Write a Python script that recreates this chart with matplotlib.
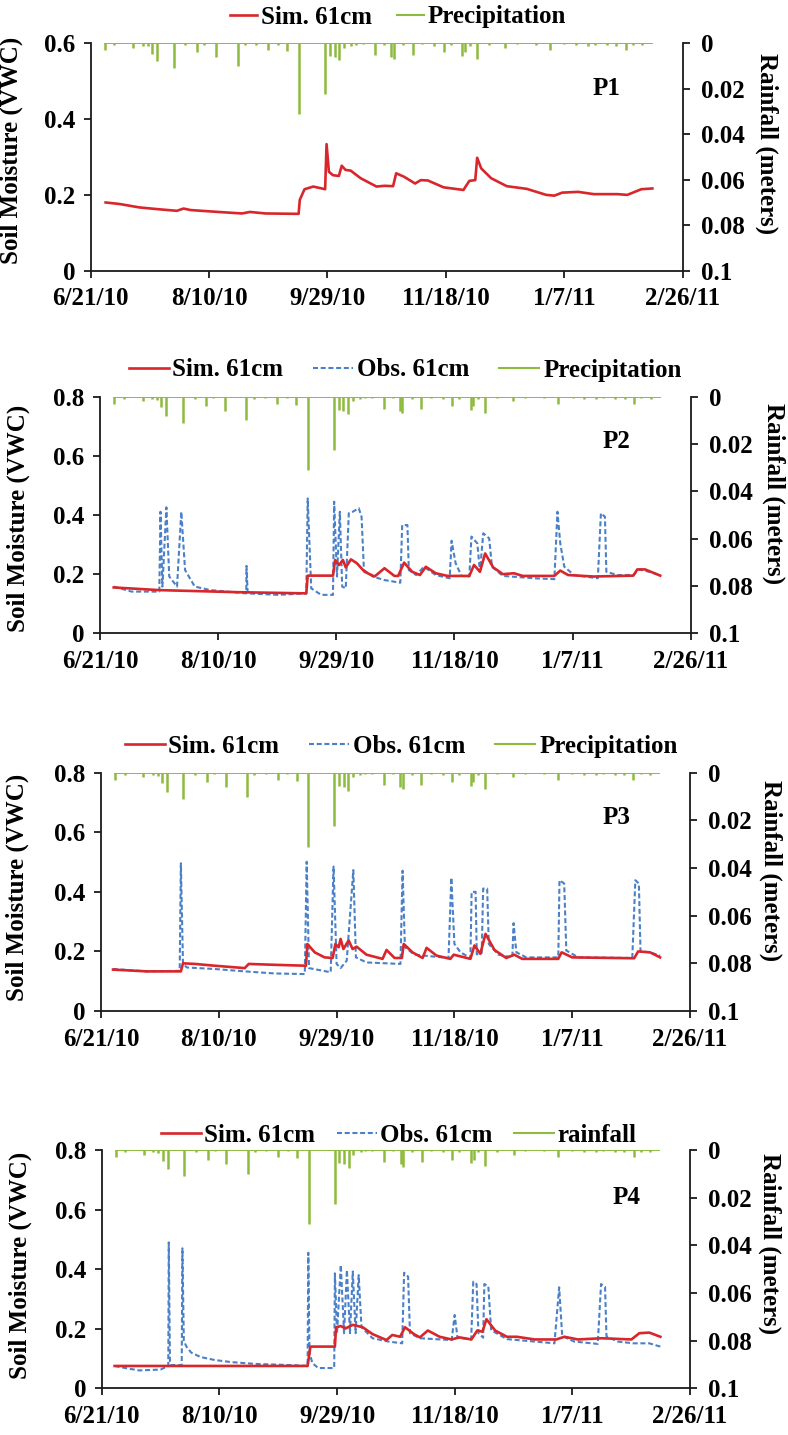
import numpy as np
import matplotlib
matplotlib.use("Agg")
import matplotlib.pyplot as plt
import matplotlib.dates as mdates
from matplotlib.ticker import FixedLocator, FuncFormatter
from matplotlib.lines import Line2D
import datetime as dt

plt.rcParams["font.family"] = ["Liberation Serif", "DejaVu Serif"]
plt.rcParams["font.weight"] = "bold"
plt.rcParams["font.size"] = 18

START = dt.date(2010, 6, 21)
END = dt.date(2011, 2, 26)

# ---- daily rainfall (m): days after 6/21/10 with rain, and the amount ----
rain_days = [6, 10, 18, 22, 24, 26, 28, 35, 40, 45, 48, 53, 62, 65, 70, 75, 79, 83,
             88, 99, 101, 103, 105, 107, 110, 112, 115, 120, 124, 127, 128, 132,
             136, 140, 145, 149, 152, 157, 158, 160, 163, 168, 175, 180, 188, 194,
             200, 205, 210, 213, 218, 222, 226, 229, 233]
rain_amt = [0.003, 0.0008, 0.002, 0.001, 0.0012, 0.0045, 0.008, 0.011, 0.0008, 0.004,
            0.0006, 0.006, 0.010, 0.0008, 0.0006, 0.003, 0.0006, 0.0035,
            0.031, 0.0225, 0.0055, 0.006, 0.0075, 0.002, 0.001, 0.0006,
            0.0005, 0.005, 0.0006, 0.006, 0.007, 0.0008,
            0.005, 0.0005, 0.001, 0.004, 0.0008, 0.0056, 0.004, 0.001, 0.0068,
            0.0007, 0.002, 0.0005, 0.0006, 0.003,
            0.0005, 0.0008, 0.001, 0.0006, 0.0008, 0.001, 0.003, 0.0007, 0.0008]
rain_first_day, rain_last_day = 6, 237

# ---- P1 simulated soil moisture at 61 cm ----
p1_sim_day = [6.3, 12.2, 20.5, 28.9, 36.4, 39.2, 42.2, 53.9, 63.9, 67.2, 73.9, 87.8,
              88.3, 90.3, 94.0, 99.0, 99.6, 100.6, 102.3, 104.8, 106.0, 107.6, 109.8,
              114.0, 120.7, 124.0, 127.7, 129.0, 132.3, 137.0, 139.4, 142.4, 149.0,
              157.4, 159.9, 162.4, 163.2, 164.9, 169.1, 175.7, 184.1, 192.4, 195.8,
              199.1, 205.8, 212.5, 222.5, 226.6, 232.5, 237.2]
p1_sim_vwc = [0.180, 0.176, 0.167, 0.162, 0.158, 0.164, 0.160, 0.155, 0.151, 0.155, 0.151,
              0.150, 0.187, 0.215, 0.222, 0.215, 0.334, 0.261, 0.252, 0.250, 0.277, 0.266,
              0.264, 0.244, 0.222, 0.224, 0.223, 0.257, 0.248, 0.230, 0.239, 0.238, 0.220,
              0.213, 0.237, 0.239, 0.298, 0.270, 0.244, 0.223, 0.216, 0.200, 0.198, 0.206,
              0.208, 0.202, 0.202, 0.200, 0.215, 0.217]

# ---- P2 ----
p2_sim_day = [5.8, 25.1, 58.5, 87.3, 87.9, 98.6, 99.5, 101.2, 102.8, 104.0, 106.2, 108.7,
              112.0, 116.2, 120.4, 124.6, 126.2, 128.7, 132.1, 135.4, 137.9, 142.1, 147.1,
              156.3, 158.3, 160.8, 163.0, 166.4, 170.5, 175.2, 178.9, 192.3, 194.8, 198.1,
              209.0, 225.7, 227.4, 230.7, 237.1]
p2_sim_vwc = [0.155, 0.146, 0.139, 0.135, 0.195, 0.195, 0.248, 0.231, 0.248, 0.223, 0.250,
              0.237, 0.208, 0.192, 0.220, 0.194, 0.194, 0.239, 0.208, 0.197, 0.225, 0.203,
              0.194, 0.194, 0.231, 0.208, 0.270, 0.223, 0.200, 0.203, 0.194, 0.194, 0.212,
              0.197, 0.192, 0.195, 0.216, 0.216, 0.195]
p2_obs_day = [5.8, 13.4, 25.1, 25.6, 26.4, 28.1, 29.3, 32.6, 34.4, 36.0, 40.1, 46.8, 61.9,
              62.0, 62.5, 75.2, 87.3, 87.9, 89.4, 93.6, 98.6, 99.1, 100.3, 101.5, 102.5,
              104.0, 105.3, 107.0, 109.5, 110.7, 111.7, 115.4, 120.4, 127.1, 127.9, 130.1,
              130.7, 133.8, 137.1, 142.1, 148.0, 148.8, 150.5, 153.0, 156.3, 157.2, 159.7,
              160.8, 162.2, 164.7, 165.9, 170.5, 183.9, 192.3, 193.6, 194.8, 196.5, 200.6,
              210.7, 212.0, 213.7, 214.3, 219.0, 225.7, 228.2, 232.4, 237.1]
p2_obs_vwc = [0.158, 0.141, 0.141, 0.411, 0.158, 0.426, 0.192, 0.158, 0.411, 0.214, 0.158,
              0.146, 0.135, 0.228, 0.135, 0.130, 0.135, 0.456, 0.152, 0.130, 0.130, 0.445,
              0.192, 0.411, 0.158, 0.152, 0.406, 0.411, 0.423, 0.394, 0.214, 0.192, 0.180,
              0.171, 0.366, 0.366, 0.214, 0.197, 0.225, 0.197, 0.186, 0.313, 0.237, 0.194,
              0.192, 0.327, 0.304, 0.208, 0.338, 0.321, 0.225, 0.194, 0.186, 0.183, 0.411,
              0.304, 0.225, 0.197, 0.186, 0.406, 0.394, 0.208, 0.197, 0.197, 0.216, 0.208,
              0.197]

# ---- P3 ----
p3_sim_day = [5.1, 19.5, 33.9, 34.8, 39.9, 48.3, 61.0, 62.7, 73.8, 87.0, 87.6, 90.7, 94.9,
              98.3, 99.5, 100.9, 101.7, 102.9, 105.1, 106.8, 108.5, 112.7, 119.5, 121.2,
              124.6, 127.7, 128.5, 132.2, 136.5, 138.2, 142.4, 148.3, 149.7, 156.8, 158.5,
              161.0, 163.2, 167.0, 172.0, 175.4, 178.8, 194.1, 195.5, 200.0, 226.3, 228.0,
              233.0, 237.3]
p3_sim_vwc = [0.139, 0.133, 0.133, 0.160, 0.158, 0.152, 0.144, 0.158, 0.155, 0.152, 0.225,
              0.197, 0.180, 0.178, 0.225, 0.214, 0.242, 0.208, 0.237, 0.208, 0.216, 0.189,
              0.175, 0.205, 0.178, 0.178, 0.225, 0.197, 0.178, 0.212, 0.186, 0.175, 0.189,
              0.175, 0.220, 0.192, 0.259, 0.205, 0.178, 0.189, 0.175, 0.175, 0.197, 0.180,
              0.177, 0.200, 0.197, 0.180]
p3_obs_day = [5.1, 19.5, 33.4, 33.9, 34.8, 36.5, 48.3, 61.0, 73.8, 86.5, 87.3, 88.3, 97.5,
              98.7, 100.0, 101.7, 104.3, 107.1, 108.2, 112.7, 127.1, 128.0, 129.0, 133.1,
              147.5, 148.7, 150.0, 152.6, 156.8, 157.3, 159.0, 159.5, 161.6, 162.2, 163.9,
              164.6, 168.7, 174.6, 175.1, 176.3, 180.5, 194.1, 194.6, 196.6, 197.5, 202.6,
              225.5, 226.8, 228.3, 229.0, 233.0, 237.3]
p3_obs_vwc = [0.141, 0.133, 0.135, 0.496, 0.158, 0.146, 0.141, 0.133, 0.126, 0.124, 0.501,
              0.144, 0.130, 0.485, 0.158, 0.144, 0.169, 0.473, 0.180, 0.163, 0.158, 0.471,
              0.214, 0.189, 0.178, 0.448, 0.225, 0.197, 0.178, 0.400, 0.400, 0.190, 0.195,
              0.411, 0.411, 0.225, 0.189, 0.180, 0.295, 0.197, 0.180, 0.180, 0.439, 0.428,
              0.203, 0.180, 0.178, 0.439, 0.428, 0.200, 0.197, 0.186]

# ---- P4 ----
p4_sim_day = [5.5, 87.5, 88.7, 99.1, 99.6, 101.6, 103.6, 106.7, 110.9, 115.1, 121.0, 123.5,
              126.8, 128.9, 132.7, 135.2, 138.6, 143.6, 148.7, 152.0, 157.1, 159.6, 161.8,
              163.5, 167.2, 172.2, 176.4, 184.0, 193.2, 196.6, 202.4, 212.5, 225.1, 228.5,
              232.7, 237.4]
p4_sim_vwc = [0.075, 0.075, 0.140, 0.140, 0.205, 0.209, 0.201, 0.213, 0.205, 0.182, 0.162,
              0.179, 0.173, 0.205, 0.182, 0.171, 0.194, 0.173, 0.164, 0.171, 0.164, 0.194,
              0.190, 0.232, 0.194, 0.173, 0.173, 0.164, 0.164, 0.173, 0.164, 0.168, 0.164,
              0.185, 0.187, 0.173]
p4_obs_day = [5.5, 10.0, 16.0, 25.0, 28.3, 28.5, 29.0, 29.5, 34.0, 34.3, 34.9, 36.0, 38.0,
              42.0, 48.0, 55.0, 65.0, 80.0, 87.5, 87.8, 88.3, 89.5, 92.0, 98.8, 99.1, 100.0,
              101.6, 103.0, 104.2, 105.5, 106.7, 107.9, 109.2, 110.4, 115.1, 121.8, 127.7,
              128.5, 130.2, 131.0, 135.2, 142.0, 148.7, 150.0, 151.2, 157.0, 157.9, 159.3,
              160.1, 162.1, 162.6, 164.3, 165.5, 172.2, 184.0, 192.4, 194.4, 195.7, 200.8,
              210.8, 212.2, 213.9, 214.5, 219.2, 226.0, 232.7, 237.4]
p4_obs_vwc = [0.075, 0.068, 0.060, 0.063, 0.075, 0.490, 0.090, 0.078, 0.078, 0.470, 0.160,
              0.140, 0.120, 0.105, 0.095, 0.088, 0.082, 0.078, 0.075, 0.455, 0.120, 0.085,
              0.068, 0.068, 0.386, 0.185, 0.414, 0.185, 0.397, 0.185, 0.392, 0.185, 0.380,
              0.205, 0.168, 0.157, 0.151, 0.388, 0.375, 0.185, 0.168, 0.165, 0.162, 0.246,
              0.170, 0.164, 0.358, 0.350, 0.185, 0.170, 0.350, 0.343, 0.195, 0.165, 0.157,
              0.151, 0.339, 0.175, 0.157, 0.149, 0.350, 0.341, 0.175, 0.157, 0.151, 0.151,
              0.140]

RED = "#D9262B"
BLUE = "#4A80C8"
GREEN = "#8DBB3E"
AXC = "#1a1a1a"

fig = plt.figure(figsize=(7.88, 14.35), dpi=100)
W, H = 788.0, 1435.0


def box(left, right, top, bottom):
    return [left / W, 1 - bottom / H, (right - left) / W, (bottom - top) / H]


base = mdates.date2num(START)
tick_nums = [mdates.date2num(START + dt.timedelta(days=50 * k)) for k in range(6)]

panels = [
    dict(rect=box(90.7, 682.7, 43.3, 270.7), ymax=0.6, sim=(p1_sim_day, p1_sim_vwc), obs=None,
         rain_label="Precipitation", tag="P1", tagxy=(0.872, 0.803),
         ylab=(-0.114, 0.53), rlab=(1.142, 0.56),
         leg=(0.505, 1 - 17 / H), leg_hl=1.1, leg_cs=1.0),
    dict(rect=box(100, 690.7, 396.7, 633.3), ymax=0.8, sim=(p2_sim_day, p2_sim_vwc),
         obs=(p2_obs_day, p2_obs_vwc), rain_label="Precipitation", tag="P2",
         tagxy=(0.875, 0.809), ylab=(-0.1185, 0.486), rlab=(1.14, 0.59),
         leg=(0.514, 1 - 370 / H), leg_hl=1.6, leg_cs=1.2),
    dict(rect=box(101, 690, 772.7, 1011), ymax=0.8, sim=(p3_sim_day, p3_sim_vwc),
         obs=(p3_obs_day, p3_obs_vwc), rain_label="Precipitation", tag="P3",
         tagxy=(0.876, 0.81), ylab=(-0.123, 0.518), rlab=(1.137, 0.588),
         leg=(0.509, 1 - 746.7 / H), leg_hl=1.6, leg_cs=1.2),
    dict(rect=box(101.7, 690, 1150, 1388.3), ymax=0.8, sim=(p4_sim_day, p4_sim_vwc),
         obs=(p4_obs_day, p4_obs_vwc), rain_label="rainfall", tag="P4",
         tagxy=(0.893, 0.799), ylab=(-0.119, 0.517), rlab=(1.136, 0.607),
         leg=(0.506, 1 - 1135 / H), leg_hl=1.6, leg_cs=0.85),
]

fmt_num = FuncFormatter(lambda v, p: f"{v:g}")
fmt_date = FuncFormatter(lambda v, p: (lambda d: f"{d.month}/{d.day}/{d.year % 100}")(mdates.num2date(v)))

for pn in panels:
    ax = fig.add_axes(pn["rect"])
    ax2 = ax.twinx()

    handles = []
    sx, sy = pn["sim"]
    h_sim, = ax.plot(base + np.array(sx), sy, color=RED, lw=1.9, label="Sim. 61cm", zorder=3)
    handles.append(h_sim)
    if pn["obs"] is not None:
        ox, oy = pn["obs"]
        h_obs, = ax.plot(base + np.array(ox), oy, color=BLUE, lw=1.5,
                         linestyle=(0, (2.4, 1.3)), label="Obs. 61cm", zorder=2)
        handles.append(h_obs)

    # rainfall: baseline at zero plus one drop per rainy day (inverted axis)
    ax2.plot(base + np.array([rain_first_day, rain_last_day]), [0, 0], color=GREEN, lw=1.4)
    ax2.vlines(base + np.array(rain_days), 0, rain_amt, color=GREEN, lw=1.8)
    h_rain = Line2D([], [], color=GREEN, lw=1.5, label=pn["rain_label"])
    handles.append(h_rain)

    ax.set_xlim(tick_nums[0], tick_nums[-1])
    ax.set_ylim(0, pn["ymax"])
    ax.yaxis.set_major_locator(FixedLocator(np.arange(0, pn["ymax"] + 1e-9, 0.2)))
    ax.yaxis.set_major_formatter(fmt_num)
    ax.xaxis.set_major_locator(FixedLocator(tick_nums))
    ax.xaxis.set_major_formatter(fmt_date)

    ax2.set_ylim(0.1, 0)
    ax2.yaxis.set_major_locator(FixedLocator([0, 0.02, 0.04, 0.06, 0.08, 0.1]))
    ax2.yaxis.set_major_formatter(fmt_num)

    for a in (ax, ax2):
        a.spines["top"].set_visible(False)
        for s in a.spines.values():
            s.set_color(AXC)
            s.set_linewidth(1.3)
    ax.spines["right"].set_visible(False)
    ax2.spines["left"].set_visible(False)
    ax2.spines["bottom"].set_visible(False)

    ax.tick_params(axis="both", direction="out", length=5, width=1.3, color=AXC,
                   labelsize=18, pad=6)
    ax.tick_params(axis="x", pad=7)
    ax2.tick_params(axis="y", direction="out", length=5, width=1.3, color=AXC,
                    labelsize=18, pad=8)

    ax.set_ylabel("Soil Moisture (VWC)", fontsize=18, fontweight="bold")
    ax.yaxis.set_label_coords(*pn["ylab"])
    ax2.set_ylabel("Rainfall (meters)", fontsize=18, fontweight="bold", rotation=270,
                   va="center")
    ax2.yaxis.set_label_coords(*pn["rlab"])

    ax.text(pn["tagxy"][0], pn["tagxy"][1], pn["tag"], transform=ax.transAxes,
            ha="center", va="center", fontsize=18, fontweight="bold")

    fig.legend(handles=handles, loc="center", bbox_to_anchor=pn["leg"], ncol=len(handles),
               frameon=False, fontsize=18, handlelength=pn["leg_hl"], handletextpad=0.15,
               columnspacing=pn["leg_cs"], borderpad=0, borderaxespad=0)

fig.savefig("out.png", dpi=100)
